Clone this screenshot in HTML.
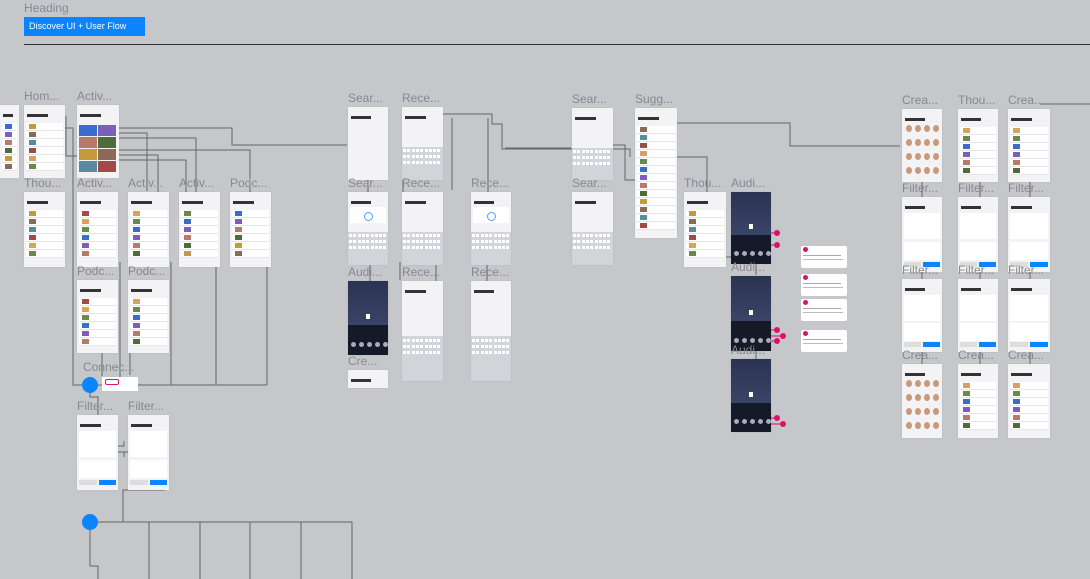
<!DOCTYPE html>
<html><head><meta charset="utf-8"><style>
html,body{margin:0;padding:0}
body{width:1090px;height:579px;background:#c5c7cb;position:relative;overflow:hidden;font-family:"Liberation Sans",sans-serif}
.lbl{position:absolute;font-size:12px;color:#86898e;white-space:nowrap}
.s{position:absolute;background:#f3f3f5;overflow:hidden;box-shadow:0 0 1px rgba(0,0,0,.15)}
.s.d{background:linear-gradient(#2a3350,#3a4468 60%,#1c2233)}
.r{position:absolute;left:2px;right:2px;height:5px;background:#fff;border-bottom:1px solid #e6e6e9}
.t{position:absolute;left:3px;width:7px;height:5px}
.kb{position:absolute;left:0;right:0;bottom:0;background:#d2d4d9}
.k{position:absolute;height:3px;background:#fff}
.tt{position:absolute;left:3px;height:3px;background:#333}
svg{position:absolute;left:0;top:0}
</style></head><body>
<div class="lbl" style="left:24px;top:1px;font-size:12px">Heading</div>
<div style="position:absolute;left:24px;top:17px;width:121px;height:19px;background:#0a84ff;color:#fff;font-size:9px;line-height:19px;padding-left:5px;box-sizing:border-box">Discover UI + User Flow</div>
<div style="position:absolute;left:24px;top:44px;width:1066px;height:1px;background:#333"></div>
<svg width="1090" height="579" fill="none" stroke="#666" stroke-width="1">
<path d="M60 117h6v39h12"/>
<path d="M116 128h116v17h115"/>
<path d="M116 133h31v58"/>
<path d="M116 138h80v58"/>
<path d="M116 150h134v42"/>
<path d="M116 155h42v37"/>
<path d="M116 160h70v32"/>
<path d="M442 114h50v10h10v25h128v8"/>
<path d="M505 148h66"/>
<path d="M613 145h12v35h12"/>
<path d="M677 157h30v35"/>
<path d="M677 123h113v23h110"/>
<path d="M1040 104h50"/>
<path d="M368 135v57M403 180v12M452 118v72M488 118v74M370 265v16M436 265v16M487 265v16M400 262v18"/>
<path d="M60 128h13v257h17"/>
<path d="M120 262v123M171 262v123M216 262v123M267 262v123M98 385h169"/>
<path d="M102 296v80M130 295v80"/>
<path d="M90 385v12h8v18"/>
<path d="M118 446h6v-5M118 452h6v5M124 452h4"/>
<path d="M165 490h-42v32H90"/>
<path d="M90 522h262v57M149 522v57M200 522v57M250 522v57M301 522v57M90 522v44h8v13"/>
<path d="M725 257h31v18M756 350v10"/>
<path d="M922 125v72M980 125v72M1030 125v72M922 268v12M980 268v12M1030 268v12M922 352v12M980 352v12M1030 352v12"/>
<path d="M766 233h11M768 245h9M768 330h9M768 336h15M768 341h11M768 418h9M768 424h15" stroke="#d0106a"/>
</svg>
<div id="c"></div>
<script>
const C=document.getElementById('c');
const cols=['#3a6bd0','#7b5fb8','#b77a6a','#4f6b3a','#c49a3a','#8a6a5a','#5a8aa0','#a04a4a','#d6a35a','#6a8a4a'];
function S(x,y,w,h,type,label){
 if(label){const l=document.createElement('div');l.className='lbl';l.style.left=x+'px';l.style.top=(y-16)+'px';l.textContent=label;C.appendChild(l);}
 const d=document.createElement('div');d.className='s'+(type=='dark'?' d':'');
 d.style.cssText+=`left:${x}px;top:${y}px;width:${w}px;height:${h}px`;
 let html='';
 if(type=='dark'){
  html+=`<div style="position:absolute;left:0;right:0;top:${h*0.6}px;height:${h*0.4}px;background:#141a28"></div>`;
  html+=`<div style="position:absolute;left:${w/2-2}px;top:${h*0.45}px;width:4px;height:5px;background:#fff"></div>`;
  for(let i=0;i<5;i++)html+=`<div style="position:absolute;left:${3+i*8}px;top:${h*0.82}px;width:5px;height:5px;border-radius:50%;background:#aab"></div>`;
 } else {
  html+=`<div class="tt" style="top:9px;width:${w*0.5}px"></div>`;
  if(type=='search'||type=='kb'){
   html+=`<div class="kb" style="height:${h*0.45}px"></div>`;
   for(let j=0;j<3;j++)for(let i=0;i<9;i++)html+=`<div class="k" style="left:${1+i*4.3}px;top:${h*0.58+j*6}px;width:3px"></div>`;
   if(type=='search')html+=`<div style="position:absolute;left:2px;right:2px;top:${h*0.2}px;height:${h*0.22}px;background:#fff"></div><div style="position:absolute;left:${w/2-4}px;top:${h*0.27}px;width:7px;height:7px;border:1px solid #4aa3ff;border-radius:50%"></div>`;
  } else if(type=='filter'){
   html+=`<div style="position:absolute;left:2px;right:2px;top:16px;height:${h*0.35}px;background:#fff"></div>`;
   html+=`<div style="position:absolute;left:2px;right:2px;top:${16+h*0.38}px;height:${h*0.25}px;background:#fff"></div>`;
   html+=`<div style="position:absolute;right:2px;bottom:5px;width:${w/2-3}px;height:5px;background:#0a84ff"></div><div style="position:absolute;left:2px;bottom:5px;width:${w/2-3}px;height:5px;background:#ddd"></div>`;
  } else if(type=='grid'){
   for(let j=0;j<4;j++)for(let i=0;i<4;i++)html+=`<div style="position:absolute;left:${4+i*9}px;top:${16+j*14}px;width:6px;height:7px;border-radius:50%;background:#c99a7a"></div>`;
  } else if(type=='tiles'){
   for(let j=0;j<4;j++)for(let i=0;i<2;i++)html+=`<div style="position:absolute;left:${2+i*19}px;top:${20+j*12}px;width:18px;height:11px;background:${cols[(i+j*2)%10]}"></div>`;
  } else if(type!='blank'){
   const n=Math.floor((h-22)/8);
   for(let i=0;i<n;i++)html+=`<div class="r" style="top:${18+i*8}px;height:7px"><div class="t" style="top:1px;background:${cols[(i+x)%10]}"></div></div>`;
  }
 }
 d.innerHTML=html;C.appendChild(d);
}
S(0,105,19,73,'list','');
S(24,105,41,73,'list','Hom...');
S(77,105,42,73,'tiles','Activ...');
S(348,107,40,73,'blank','Sear...');
S(402,107,41,73,'kb','Rece...');
S(572,108,41,72,'kb','Sear...');
S(635,108,42,130,'list','Sugg...');
S(902,109,40,73,'grid','Crea...');
S(958,109,40,73,'list','Thou...');
S(1008,109,42,73,'list','Crea...');
S(24,192,41,75,'list','Thou...');
S(77,192,41,75,'list','Activ...');
S(128,192,41,75,'list','Activ...');
S(179,192,41,75,'list','Activ...');
S(230,192,41,75,'list','Podc...');
S(348,192,40,73,'search','Sear...');
S(402,192,41,73,'kb','Rece...');
S(471,192,40,73,'search','Rece...');
S(572,192,41,73,'kb','Sear...');
S(684,192,42,75,'list','Thou...');
S(731,192,40,72,'dark','Audi...');
S(902,197,40,75,'filter','Filter...');
S(958,197,40,75,'filter','Filter...');
S(1008,197,42,75,'filter','Filter...');
S(77,280,41,73,'list','Podc...');
S(128,280,41,73,'list','Podc...');
S(348,281,40,74,'dark','Audi...');
S(402,281,41,100,'kb','Rece...');
S(471,281,40,100,'kb','Rece...');
S(731,276,40,75,'dark','Audi...');
S(902,279,40,73,'filter','Filter...');
S(958,279,40,73,'filter','Filter...');
S(1008,279,42,73,'filter','Filter...');
S(348,370,40,18,'list','Cre...');
S(731,359,40,73,'dark','Audi...');
S(902,364,40,74,'grid','Crea...');
S(958,364,40,74,'list','Crea...');
S(1008,364,42,74,'list','Crea...');
S(77,415,41,75,'filter','Filter...');
S(128,415,41,75,'filter','Filter...');
[[801,246],[801,274],[801,299],[801,330]].forEach(p=>{const d=document.createElement('div');d.style.cssText=`position:absolute;left:${p[0]}px;top:${p[1]}px;width:46px;height:22px;background:#fff;border-radius:2px`;d.innerHTML='<div style="position:absolute;left:2px;top:1px;width:5px;height:5px;border-radius:50%;background:#e0106a"></div><div style="position:absolute;left:2px;top:9px;width:38px;height:1px;background:#aaa"></div><div style="position:absolute;left:2px;top:13px;width:40px;height:1px;background:#bbb"></div>';C.appendChild(d);});
[[777,233],[777,245],[777,330],[783,336],[777,341],[777,418],[783,424]].forEach(p=>{const d=document.createElement('div');d.style.cssText=`position:absolute;left:${p[0]-3}px;top:${p[1]-3}px;width:6px;height:6px;border-radius:50%;background:#e0106a`;C.appendChild(d);});
</script>
<div class="lbl" style="left:83px;top:360px">Connec...</div>
<div style="position:absolute;left:82px;top:377px;width:16px;height:16px;border-radius:50%;background:#0a84ff"></div>
<div style="position:absolute;left:102px;top:377px;width:36px;height:14px;background:#fff"><div style="position:absolute;left:3px;top:2px;width:12px;height:4px;border:1px solid #e0106a;border-radius:2px"></div></div>
<div style="position:absolute;left:82px;top:514px;width:16px;height:16px;border-radius:50%;background:#0a84ff"></div>
</body></html>
